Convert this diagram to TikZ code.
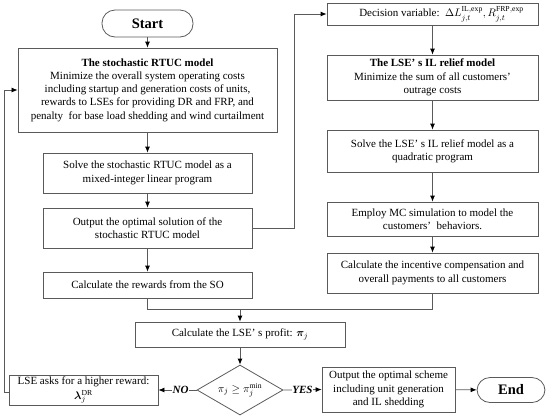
\documentclass[tikz,border=0pt]{standalone}
\usepackage{fontspec}
\setmainfont{Liberation Serif}
\usepackage{bm}
\usetikzlibrary{shapes.geometric,arrows.meta}
\definecolor{linegray}{HTML}{5A5A5A}
\begin{document}
\begin{tikzpicture}[x=1bp,y=-1bp,
  box/.style={draw=linegray, line width=0.8bp, align=center, inner sep=1bp,
    font=\fontsize{11bp}{13.3bp}\selectfont},
  term/.style={box, rounded corners=13bp, font=\fontsize{14.5bp}{16bp}\selectfont\bfseries},
  dia/.style={box, diamond, aspect=1.7, inner sep=0bp},
  arr/.style={draw=linegray, line width=0.8bp, -{Latex[length=6bp,width=5bp,black]}},
  ln/.style={draw=linegray, line width=0.8bp},
  lab/.style={fill=white, inner sep=0.5bp, font=\fontsize{11bp}{13bp}\selectfont\bfseries\itshape}]
\useasboundingbox (0,0) rectangle (550,419);

% left column
\node[term, minimum width=91bp, minimum height=27bp] (start) at (147.5,23.5) {Start};
\node[box, minimum width=259bp, minimum height=84bp] (rtuc) at (147.5,90)
  {\textbf{The stochastic RTUC model}\\
   Minimize the overall system operating costs\\
   including startup and generation costs of units,\\
   rewards to LSEs for providing DR and FRP, and\\
   penalty\ \ for base load shedding and wind curtailment};
\node[box, minimum width=209bp, minimum height=40bp] (solve) at (147.5,173)
  {Solve the stochastic RTUC model as a\\mixed-integer linear program};
\node[box, minimum width=209bp, minimum height=40bp] (output) at (147.5,228)
  {Output the optimal solution of the\\stochastic RTUC model};
\node[box, minimum width=209bp, minimum height=26bp] (rewards) at (147.5,285)
  {Calculate the rewards from the SO};

% right column
\node[box, minimum width=211bp, minimum height=22bp] (decision) at (432.5,14)
  {\hspace*{18bp}Decision variable:\ \ $\Delta L_{j,t}^{\mathrm{IL,exp}}, R_{j,t}^{\mathrm{FRP,exp}}$};
\node[box, minimum width=211bp, minimum height=45bp] (ilmodel) at (432.5,77.5)
  {\textbf{The LSE’\ s IL relief model}\\Minimize the sum of all customers’\\outrage costs};
\node[box, minimum width=211bp, minimum height=42bp] (solveil) at (432.5,151)
  {Solve the LSE’\ s IL relief model as a\\quadratic program};
\node[box, minimum width=211bp, minimum height=34bp] (mc) at (432.5,219)
  {Employ MC simulation to model the\\customers’\ \ behaviors.};
\node[box, minimum width=211bp, minimum height=40bp] (incent) at (432.5,273)
  {Calculate the incentive compensation and\\overall payments to all customers};

% bottom
\node[box, minimum width=210bp, minimum height=25bp] (profit) at (240,334.5)
  {Calculate the LSE’\ s profit: $\bm{\pi}_j$};
\node[dia, minimum width=86bp, minimum height=50bp] (cond) at (240,390)
  {$\pi_j \ge \pi_j^{\min}$};
\node[box, minimum width=149bp, minimum height=30bp] (lse) at (83.5,390)
  {LSE asks for a higher reward:\\[1.5bp]$\bm{\lambda}_j^{\mathrm{DR}}$};
\node[box, minimum width=133bp, minimum height=45bp] (scheme) at (388.5,389.5)
  {Output the optimal scheme\\including unit generation\\and IL shedding};
\node[term, minimum width=68bp, minimum height=25bp] (end) at (511,390) {End};

\coordinate (rx) at (294,0);
\coordinate (jn) at (240,309);
\coordinate (lx) at (4,0);

% connectors
\draw[arr] (start) -- (rtuc);
\draw[arr] (rtuc) -- (solve);
\draw[arr] (solve) -- (output);
\draw[arr] (output) -- (rewards);
\draw[arr] (output.east) -| (rx |- decision.west) -- (decision.west);
\draw[arr] (decision) -- (ilmodel);
\draw[arr] (ilmodel) -- (solveil);
\draw[arr] (solveil) -- (mc);
\draw[arr] (mc) -- (incent);
\draw[ln] (rewards.south) |- (jn);
\draw[ln] (incent.south) |- (jn);
\draw[arr] (jn) -- (profit.north);
\draw[arr] (profit) -- (cond);
\draw[arr] (cond.west) -- (lse.east) node[lab, pos=0.42] {NO};
\draw[arr] (cond.east) -- (scheme.west) node[lab, pos=0.5] {YES};
\draw[arr] (scheme) -- (end);
\draw[arr] ([yshift=-2bp]lse.west) -| (lx |- rtuc.west) -- (rtuc.west);
\end{tikzpicture}
\end{document}
